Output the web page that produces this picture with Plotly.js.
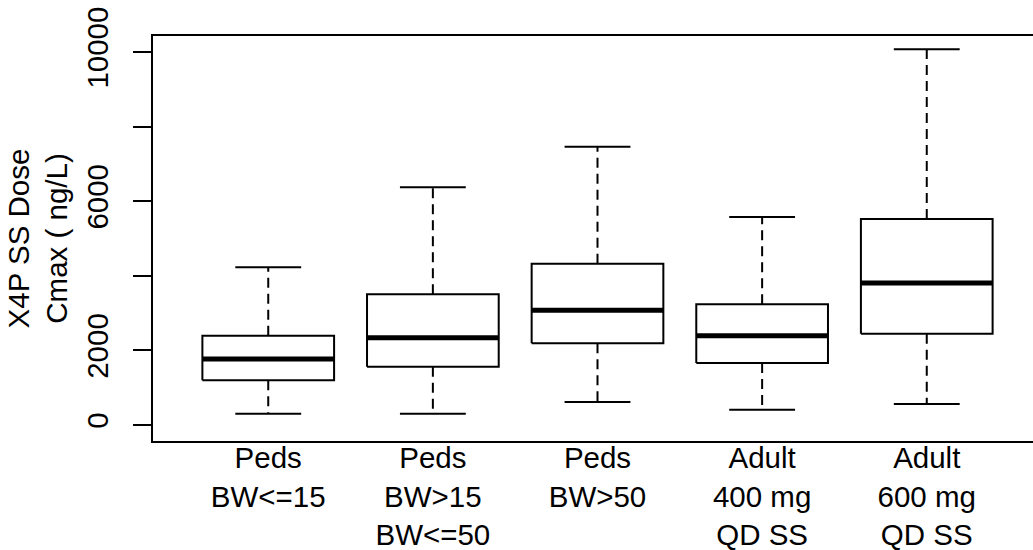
<!DOCTYPE html>
<html>
<head>
<meta charset="utf-8">
<script src="https://cdn.plot.ly/plotly-3.0.1.min.js"></script>
<style>
html, body { margin: 0; padding: 0; overflow: hidden; background: #fff; }
#chart { width: 1050px; height: 550px; }
</style>
</head>
<body>
<div id="chart"></div>
<script>
// Data
var categories = ["Peds<br>BW&lt;=15", "Peds<br>BW>15<br>BW&lt;=50", "Peds<br>BW>50", "Adult<br>400 mg<br>QD SS", "Adult<br>600 mg<br>QD SS"];
var positions = [1, 2, 3, 4, 5];
var upperWhisker = [4228, 6373, 7462, 5576, 10072];
var q3 = [2394, 3504, 4325, 3235, 5523];
var medians = [1769, 2341, 3074, 2394, 3807];
var q1 = [1198, 1563, 2190, 1662, 2448];
var lowerWhisker = [303, 303, 617, 411, 563];
var yTickVals = [0, 2000, 4000, 6000, 8000, 10000];
var yTickText = ["0", "2000", "", "6000", "", "10000"];

var boxHalf = 0.4, capHalf = 0.2;
var bx = [], by = [], mx = [], my = [], wx = [], wy = [], cx = [], cy = [];
positions.forEach(function (p, i) {
  bx.push(p - boxHalf, p + boxHalf, p + boxHalf, p - boxHalf, p - boxHalf, null);
  by.push(q1[i], q1[i], q3[i], q3[i], q1[i], null);
  mx.push(p - boxHalf, p + boxHalf, null);
  my.push(medians[i], medians[i], null);
  wx.push(p, p, null, p, p, null);
  wy.push(q3[i], upperWhisker[i], null, q1[i], lowerWhisker[i], null);
  cx.push(p - capHalf, p + capHalf, null, p - capHalf, p + capHalf, null);
  cy.push(upperWhisker[i], upperWhisker[i], null, lowerWhisker[i], lowerWhisker[i], null);
});

var traces = [
  {x: wx, y: wy, mode: "lines", line: {color: "#000", width: 2, dash: "10px,6px"}, hoverinfo: "skip"},
  {x: cx, y: cy, mode: "lines", line: {color: "#000", width: 2}, hoverinfo: "skip"},
  {x: bx, y: by, mode: "lines", line: {color: "#000", width: 2}, hoverinfo: "skip"},
  {x: mx, y: my, mode: "lines", line: {color: "#000", width: 5}, hoverinfo: "skip"}
];

var font = {family: "Liberation Sans, Arial, sans-serif", size: 29.5, color: "#000"};

var layout = {
  width: 1050, height: 550,
  margin: {l: 153, r: 8, t: 36, b: 109, pad: 0},
  paper_bgcolor: "#fff", plot_bgcolor: "#fff",
  showlegend: false,
  font: font,
  xaxis: {
    range: [0.3, 5.7], tickvals: positions, ticktext: categories,
    showgrid: false, zeroline: false, showline: true, mirror: true,
    linecolor: "#000", linewidth: 2, ticks: "", ticklabelstandoff: -10,
    tickfont: font, fixedrange: true
  },
  yaxis: {
    range: [-429, 10429], tickvals: yTickVals, ticktext: yTickText,
    showgrid: false, zeroline: false, showline: true, mirror: true,
    linecolor: "#000", linewidth: 2, ticks: "outside", ticklen: 18,
    tickwidth: 2, tickcolor: "#000", tickangle: -90, tickfont: font,
    ticklabelstandoff: 13,
    title: {text: "X4P SS Dose<br>Cmax ( ng/L)", font: font, standoff: 5},
    fixedrange: true
  }
};

Plotly.newPlot("chart", traces, layout, {displayModeBar: false, staticPlot: true});
</script>
</body>
</html>
